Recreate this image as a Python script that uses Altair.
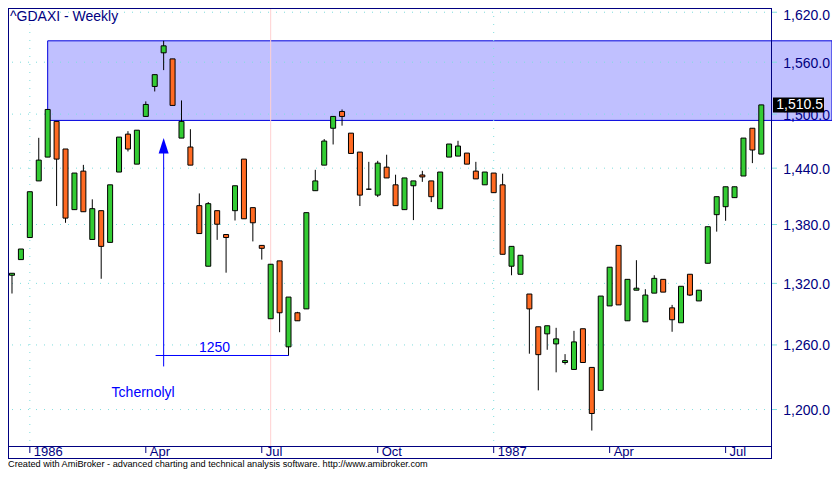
import altair as alt
import pandas as pd

# ---------------- data ----------------
weeks = list(range(85))
opens = [1328.1, 1343.9, 1366.5, 1426.2, 1452.1, 1491.8, 1461.0, 1395.6, 1436.8, 1364.5,
         1394.5, 1361.5, 1435.8, 1477.5, 1444.4, 1497.4, 1531.7, 1571.1, 1563.9, 1473.1,
         1463.2, 1399.8, 1337.2, 1394.5, 1369.6, 1394.5, 1449.9, 1397.7, 1358.4, 1285.2,
         1342.6, 1258.2, 1291.0, 1294.8, 1415.7, 1443.3, 1484.1, 1503.0, 1478.6, 1457.6,
         1417.3, 1411.0, 1441.1, 1422.0, 1395.6, 1421.0, 1432.6, 1426.2, 1396.6, 1452.1,
         1453.2, 1456.5, 1436.8, 1422.0, 1434.7, 1422.0, 1337.2, 1329.1, 1309.4, 1277.4,
         1270.6, 1261.0, 1243.4, 1236.9, 1275.5, 1238.8, 1217.5, 1297.7, 1358.4, 1283.2,
         1313.2, 1282.2, 1310.3, 1324.0, 1295.8, 1281.3, 1329.1, 1302.6, 1340.2, 1390.3,
         1398.7, 1408.3, 1431.5, 1484.1, 1455.4]
highs = [1330.1, 1354.7, 1414.6, 1473.4, 1505.3, 1491.8, 1461.0, 1434.7, 1443.6, 1406.5,
         1394.5, 1422.0, 1474.2, 1480.8, 1481.9, 1514.5, 1545.4, 1585.4, 1563.9, 1515.6,
         1483.0, 1412.8, 1403.6, 1394.5, 1369.6, 1421.0, 1449.9, 1397.7, 1358.4, 1339.2,
         1342.6, 1306.4, 1291.9, 1392.4, 1438.2, 1472.0, 1497.4, 1505.3, 1478.6, 1457.6,
         1446.9, 1448.0, 1454.7, 1432.9, 1429.4, 1426.2, 1437.1, 1426.2, 1435.8, 1466.5,
         1470.1, 1456.5, 1446.9, 1435.8, 1434.7, 1434.0, 1357.4, 1348.3, 1309.4, 1277.4,
         1278.4, 1276.4, 1251.3, 1273.5, 1275.5, 1238.8, 1307.4, 1336.2, 1358.4, 1324.0,
         1343.3, 1314.2, 1328.1, 1324.0, 1298.7, 1317.1, 1329.1, 1313.2, 1377.7, 1409.3,
         1419.9, 1419.9, 1473.1, 1484.1, 1510.5]
lows = [1309.9, 1343.9, 1366.5, 1426.2, 1452.1, 1399.4, 1381.8, 1395.6, 1393.4, 1364.5,
        1324.6, 1361.5, 1435.8, 1458.3, 1444.4, 1497.4, 1525.9, 1550.7, 1509.9, 1473.1,
        1443.3, 1370.6, 1337.2, 1364.1, 1330.7, 1384.2, 1386.0, 1362.5, 1343.9, 1285.2,
        1272.2, 1249.8, 1283.2, 1294.8, 1415.7, 1443.3, 1466.0, 1487.0, 1456.1, 1399.4,
        1416.8, 1408.9, 1429.4, 1399.8, 1395.6, 1384.6, 1425.2, 1403.6, 1396.6, 1452.1,
        1453.2, 1444.4, 1428.4, 1422.0, 1413.6, 1349.3, 1328.1, 1329.1, 1251.7, 1217.5,
        1255.4, 1234.2, 1241.5, 1236.9, 1243.4, 1181.1, 1217.5, 1297.7, 1298.7, 1283.2,
        1313.2, 1282.2, 1310.3, 1311.3, 1272.6, 1281.3, 1307.4, 1302.6, 1340.2, 1372.6,
        1383.9, 1408.3, 1431.5, 1445.5, 1455.4]
closes = [1330.1, 1354.7, 1414.6, 1448.8, 1505.3, 1449.9, 1386.7, 1434.7, 1393.4, 1396.6,
          1357.4, 1422.0, 1474.2, 1461.0, 1481.9, 1511.0, 1545.4, 1579.4, 1509.9, 1491.8,
          1443.3, 1370.6, 1401.9, 1380.3, 1366.5, 1421.0, 1386.0, 1381.8, 1355.4, 1339.2,
          1291.0, 1306.4, 1283.2, 1392.4, 1426.2, 1469.8, 1497.4, 1497.4, 1456.1, 1411.0,
          1417.3, 1445.5, 1429.4, 1399.8, 1429.4, 1426.2, 1430.5, 1409.3, 1435.8, 1466.5,
          1464.3, 1444.4, 1428.4, 1435.8, 1413.6, 1349.3, 1357.4, 1348.3, 1294.8, 1250.8,
          1278.4, 1265.8, 1245.2, 1262.9, 1243.4, 1196.4, 1307.4, 1336.2, 1298.7, 1324.0,
          1315.2, 1308.4, 1325.0, 1311.3, 1284.2, 1317.1, 1308.4, 1313.2, 1377.7, 1409.3,
          1419.9, 1419.9, 1473.1, 1459.9, 1510.5]

x_tick_weeks = [2, 15, 28, 41, 54, 67, 80]
x_tick_labels = ["1986", "Apr", "Jul", "Oct", "1987", "Apr", "Jul"]
year_weeks = [2, 54]
marker_week = [29]
y_ticks = [1200, 1260, 1320, 1380, 1440, 1500, 1560, 1620]
y_tick_labels = ["1,200.0", "1,260.0", "1,320.0", "1,380.0", "1,440.0", "1,500.0", "1,560.0", "1,620.0"]

zone_start = [4]
zone_top = [1585.4]
zone_bottom = [1492.9]

arrow_week = [17]
arrow_low = [1239.7]
arrow_head = [1464.6]
level_value = [1250]
level_from = [16.1]
level_to = [31]
level_text_week = [22.7]
event_week = [14.7]
event_price = [1211.6]
last_close = [1510.5]

title_text = "^GDAXI - Weekly"
credit_text = ("Created with AmiBroker - advanced charting and technical analysis software. "
               "http://www.amibroker.com")

# ---------------- chart ----------------
W, H = 763, 438
FONT = "Liberation Sans"
NAVY = "#000080"
BLUE = "#0000ff"
GRID = "#7fdede"

xs = alt.Scale(domain=[-0.4484, 85.0874], nice=False, zero=False, padding=0)
ys = alt.Scale(type="log", domain=[1167.4, 1625.2], nice=False, padding=0)


def X(f):
    return alt.X(f, type="quantitative", scale=xs, axis=None)


def Y(f):
    return alt.Y(f, type="quantitative", scale=ys, axis=None)


df = pd.DataFrame({"i": weeks, "open": opens, "high": highs, "low": lows, "close": closes})
df["dir"] = ["up" if c > o else "down" for o, c in zip(opens, closes)]

one = pd.DataFrame({"a": [0]})

zone = alt.Chart(pd.DataFrame({"x0": zone_start, "t": zone_top, "b": zone_bottom})).mark_rect(
    fill="#c0c0ff", stroke="#0000dd", strokeWidth=1
).encode(x=X("x0"), x2=alt.value(W + 61), y=Y("t"), y2=alt.Y2("b"))

ydf = pd.DataFrame({"v": y_ticks, "lab": y_tick_labels})
hgrid = alt.Chart(ydf).mark_rule(color=GRID, strokeDash=[1, 7], strokeWidth=1).encode(
    y=Y("v"), x=alt.value(4), x2=alt.value(W)
)
vgrid = alt.Chart(pd.DataFrame({"w": year_weeks})).mark_rule(
    color=GRID, strokeDash=[1, 7], strokeWidth=1
).encode(x=X("w"), y=alt.value(0), y2=alt.value(H))

pink = alt.Chart(pd.DataFrame({"w": marker_week})).mark_rule(color="#ffd0d0", strokeWidth=1).encode(
    x=X("w"), y=alt.value(0), y2=alt.value(H)
)

wicks = alt.Chart(df).mark_rule(color="black", strokeWidth=1).encode(
    x=X("i"), y=Y("low"), y2=alt.Y2("high")
)
bodies = alt.Chart(df).mark_bar(size=5, stroke="black", strokeWidth=1).encode(
    x=X("i"), y=Y("open"), y2=alt.Y2("close"),
    color=alt.Color("dir:N", scale=alt.Scale(domain=["up", "down"], range=["#33cc33", "#ff6a22"]),
                    legend=None),
)

arrow_line = alt.Chart(pd.DataFrame({"w": arrow_week, "lo": arrow_low, "hi": arrow_head})).mark_rule(
    color=BLUE, strokeWidth=1
).encode(x=X("w"), y=Y("lo"), y2=alt.Y2("hi"))
arrow_tip = alt.Chart(pd.DataFrame({"w": arrow_week, "p": arrow_head})).mark_point(
    shape="M0,-1L0.65,1L-0.65,1Z", filled=True, size=237, color=BLUE, opacity=1
).encode(x=X("w"), y=Y("p"))
level_line = alt.Chart(pd.DataFrame({"a": level_from, "b": level_to, "v": level_value})).mark_rule(
    color=BLUE, strokeWidth=1
).encode(x=X("a"), x2=alt.X2("b"), y=Y("v"))
level_text = alt.Chart(pd.DataFrame({"w": level_text_week, "v": level_value, "t": ["1250"]})).mark_text(
    font=FONT, fontSize=14, color=BLUE, align="center", baseline="alphabetic", dy=-3
).encode(x=X("w"), y=Y("v"), text="t:N")
event_text = alt.Chart(pd.DataFrame({"w": event_week, "v": event_price, "t": ["Tchernolyl"]})).mark_text(
    font=FONT, fontSize=14, color=BLUE, align="center", baseline="alphabetic"
).encode(x=X("w"), y=Y("v"), text="t:N")


def hrule(x1, x2, y, color=NAVY):
    return alt.Chart(one).mark_rule(color=color, strokeWidth=1).encode(
        x=alt.value(x1), x2=alt.value(x2), y=alt.value(y)
    )


def vrule(x, y1, y2, color=NAVY):
    return alt.Chart(one).mark_rule(color=color, strokeWidth=1).encode(
        x=alt.value(x), y=alt.value(y1), y2=alt.value(y2)
    )


frame = [
    hrule(0, W, 0.5),
    hrule(0, W, H + 0.5),
    hrule(0, W, H + 12.5),
    vrule(0.5, 0, H + 13),
    vrule(W + 0.5, 0, H + 13),
]

yticks = alt.Chart(ydf).mark_rule(color=GRID, strokeWidth=1).encode(
    y=Y("v"), x=alt.value(W + 1), x2=alt.value(W + 6)
)
ylabels = alt.Chart(ydf).transform_filter("datum.v < 1600").mark_text(
    font=FONT, fontSize=14, color=NAVY, align="right", baseline="middle", dy=1.5
).encode(y=Y("v"), x=alt.value(W + 59), text="lab:N")
ylabel_top = alt.Chart(ydf).transform_filter("datum.v >= 1600").mark_text(
    font=FONT, fontSize=14, color=NAVY, align="right", baseline="middle", dy=4
).encode(y=Y("v"), x=alt.value(W + 59), text="lab:N")

last_df = pd.DataFrame({"p": last_close, "t": ["1,510.5"]})
last_box = alt.Chart(last_df).mark_rule(color="black", strokeWidth=15, strokeCap="butt").encode(
    y=Y("p"), x=alt.value(W + 2), x2=alt.value(W + 53)
)
last_text = alt.Chart(last_df).mark_text(
    font=FONT, fontSize=14, color="white", align="right", baseline="middle", dy=0.5
).encode(y=Y("p"), x=alt.value(W + 52), text="t:N")

xdf = pd.DataFrame({"w": x_tick_weeks, "lab": x_tick_labels})
xticks = alt.Chart(xdf).mark_rule(color=NAVY, strokeWidth=1).encode(
    x=X("w"), y=alt.value(H + 1), y2=alt.value(H + 7)
)
xlabels = alt.Chart(xdf).mark_text(
    font=FONT, fontSize=13, color=NAVY, align="left", baseline="alphabetic", dx=4
).encode(x=X("w"), y=alt.value(H + 9.5), text="lab:N")

title = alt.Chart(one).mark_text(
    text=title_text, font=FONT, fontSize=14, color=NAVY, align="left", baseline="alphabetic"
).encode(x=alt.value(2), y=alt.value(13))
credits = alt.Chart(one).mark_text(
    text=credit_text, font=FONT, fontSize=9.2, color="black", align="left", baseline="alphabetic"
).encode(x=alt.value(0), y=alt.value(H + 21))

chart = alt.layer(
    zone, hgrid, vgrid, pink, wicks, bodies,
    arrow_line, arrow_tip, level_line, level_text, event_text,
    *frame, yticks, ylabels, ylabel_top, last_box, last_text, xticks, xlabels, title, credits,
).properties(
    width=W, height=H,
    autosize=alt.AutoSizeParams(type="none"),
    padding={"left": 0, "top": 0, "right": 61, "bottom": 23},
    background="white",
).configure_view(stroke=None)

chart.save("out.html", embed_options={"renderer": "svg", "actions": False})
